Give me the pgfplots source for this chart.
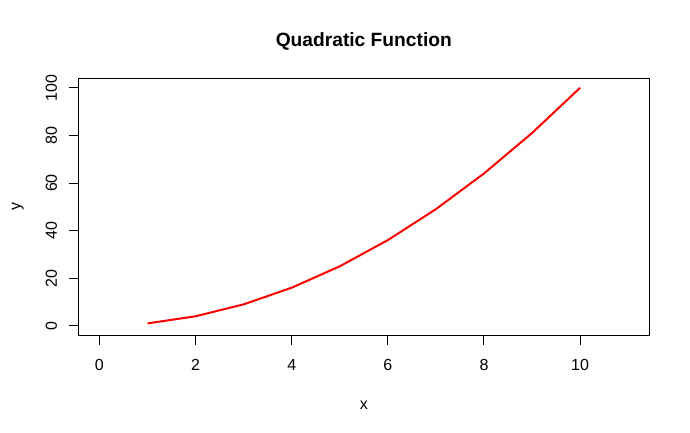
\documentclass[border=0pt]{standalone}
\usepackage{fontspec}
\setmainfont{Liberation Sans}
\usepackage{pgfplots}
\pgfplotsset{compat=1.18}
\begin{document}
\begin{tikzpicture}
\begin{axis}[
    at={(0,0)}, anchor=south west,
    scale only axis,
    width=571pt, height=257pt,
    xmin=-0.44, xmax=11.44,
    ymin=-4, ymax=104,
    xtick={0,2,...,10},
    ytick={0,20,...,100},
    tick align=outside,
    major tick length=9.3pt,
    tick style={black, line width=1pt},
    axis line style={line width=1pt},
    xtick pos=bottom, ytick pos=left,
    /pgf/number format/assume math mode=true,
    tick label style={font=\fontsize{16}{19}\selectfont},
    xticklabel style={anchor=base, yshift=-25.4pt},
    yticklabel style={xshift=-12pt, rotate=90, anchor=base},
    title={Quadratic Function},
    every axis title/.style={font=\fontsize{19.2}{22}\selectfont\bfseries, at={(axis description cs:0.5,1.123)}, anchor=base},
    xlabel={x}, ylabel={y},
    every axis x label/.style={font=\fontsize{16}{19}\selectfont, at={(axis description cs:0.5,-0.288)}, anchor=base},
    every axis y label/.style={font=\fontsize{16}{19}\selectfont, at={(axis description cs:-0.1016,0.5)}, rotate=90, anchor=base},
]
\addplot[red, line width=2pt] coordinates {
(1,1) (2,4) (3,9) (4,16) (5,25) (6,36) (7,49) (8,64) (9,81) (10,100)
};
\end{axis}
\useasboundingbox (-78.3pt,-97.7pt) rectangle (611.7pt,335.3pt);
\end{tikzpicture}
\end{document}
